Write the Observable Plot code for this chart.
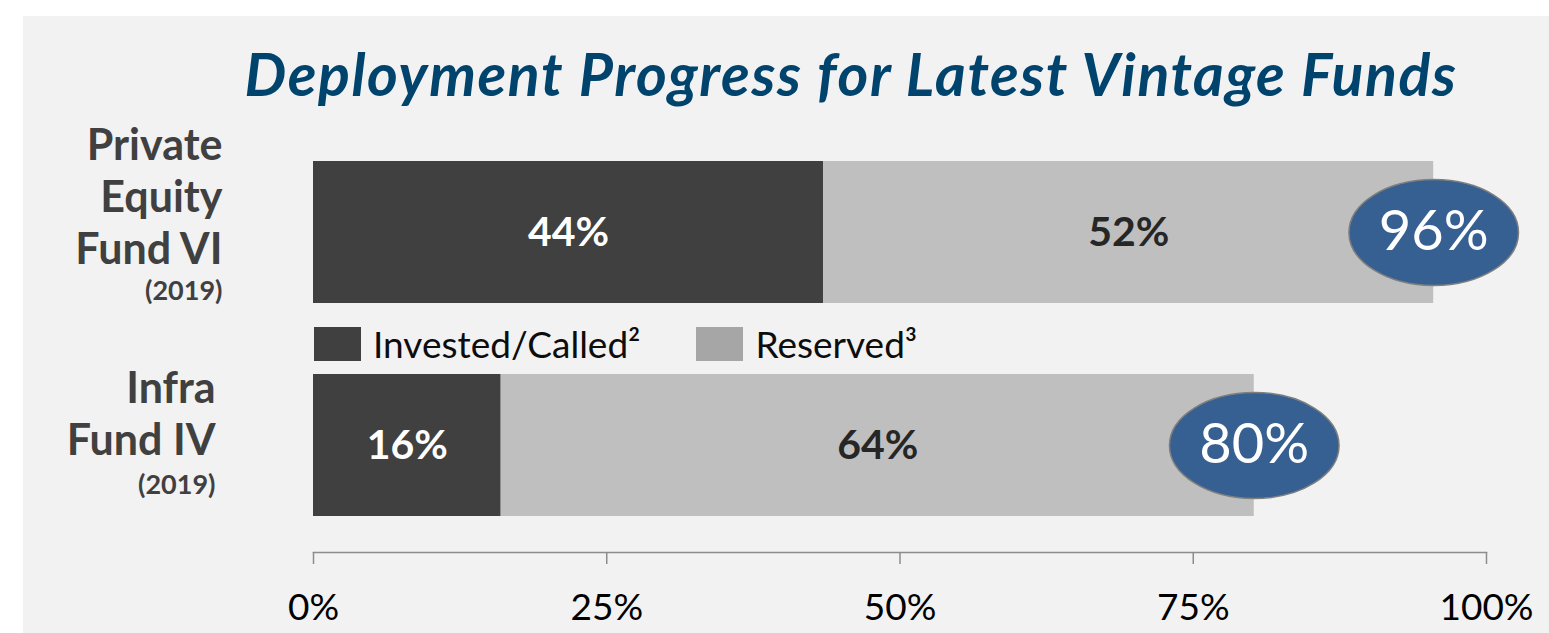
<!DOCTYPE html>
<html>
<head>
<meta charset="utf-8">
<script src="https://cdn.jsdelivr.net/npm/d3@7"></script>
<script src="https://cdn.jsdelivr.net/npm/@observablehq/plot@0.6"></script>
<style>
  html, body { margin: 0; padding: 0; background: #ffffff; width: 1549px; height: 633px; overflow: hidden; font-family: Lato, "Open Sans", sans-serif; }
  #panel { position: absolute; left: 23px; top: 16px; right: 0; bottom: 0; background: #f2f2f2; }
  #title { position: absolute; left: 851px; top: 44px; transform: translateX(-50%); white-space: nowrap;
           font: italic bold 59px/1 Lato, sans-serif; letter-spacing: 1.6px; color: #00446e; margin: 0; }
  #chart { position: absolute; left: 0; top: 0; }
  #legend { position: absolute; left: 314px; top: 321px; }
  #legend > div { font-family: Lato, sans-serif !important; font-size: 37px !important; color: #0d0d0d !important; margin: 0 !important; }
  #legend span > svg { margin-right: 12px !important; }
  #legend span { margin-right: 56px !important; font-size: 37px !important; }
</style>
</head>
<body>
<div id="panel"></div>
<h1 id="title">Deployment Progress for Latest Vintage Funds</h1>
<div id="chart"></div>
<div id="legend"></div>
<script>
// ---- data ----
const funds = ["Private Equity Fund VI", "Infra Fund IV"];
const fundLines = [["Private", "Equity", "Fund VI"], ["Infra", "Fund IV"]];
const vintages = ["2019", "2019"];
const series = ["Invested/Called", "Reserved"];
const footnotes = ["²", "³"];
const invested = [43.5, 16];
const reserved = [52, 64.2];
const xTicks = [0, 25, 50, 75, 100];

// ---- derived tables ----
const rows = funds.flatMap((f, i) => [
  {fund: f, series: series[0], value: invested[i]},
  {fund: f, series: series[1], value: reserved[i]}
]);
const totals = funds.map((f, i) => ({fund: f, total: invested[i] + reserved[i]}));
const pct = v => Math.round(v) + "%";

// ---- styles ----
const barColors = ["#404040", "#bfbfbf"];
const legendColors = ["#404040", "#a6a6a6"];
const labelLayout = [
  {dx: -91, dyName: 31, dyYear: 67},
  {dx: -98, dyName: 9, dyYear: 48}
];

// custom ellipse symbol (rx = 1.6 * r, ry = r)
const ellipse = {
  draw(context, size) {
    const r = Math.sqrt(size / Math.PI);
    const rx = r * 1.6, ry = r, k = 0.5522847;
    context.moveTo(rx, 0);
    context.bezierCurveTo(rx, ry * k, rx * k, ry, 0, ry);
    context.bezierCurveTo(-rx * k, ry, -rx, ry * k, -rx, 0);
    context.bezierCurveTo(-rx, -ry * k, -rx * k, -ry, 0, -ry);
    context.bezierCurveTo(rx * k, -ry, rx, -ry * k, rx, 0);
    context.closePath();
  }
};

const fundLabelMarks = funds.flatMap((f, i) => [
  Plot.text([f], {
    y: d => d, frameAnchor: "left", text: () => fundLines[i].join("\n"),
    textAnchor: "end", lineAnchor: "bottom", lineHeight: 52 / 43,
    dx: labelLayout[i].dx, dy: labelLayout[i].dyName,
    fontSize: 43, fontWeight: "bold", fill: "#404040"
  }),
  Plot.text([f], {
    y: d => d, frameAnchor: "left", text: () => "(" + vintages[i] + ")",
    textAnchor: "end", lineAnchor: "bottom",
    dx: labelLayout[i].dx, dy: labelLayout[i].dyYear,
    fontSize: 27, fontWeight: "bold", fill: "#404040"
  })
]);

const chart = Plot.plot({
  width: 1549,
  height: 633,
  marginLeft: 313,
  marginRight: 63,
  marginTop: 161,
  marginBottom: 81,
  style: {background: "transparent", fontFamily: "Lato, sans-serif", overflow: "visible"},
  x: {domain: [0, 100], axis: null},
  y: {domain: funds, range: [161, 516], paddingInner: 1 / 3, paddingOuter: 0, axis: null},
  color: {domain: series, range: barColors},
  marks: [
    Plot.frame({anchor: "bottom", stroke: "#8c8c8c", strokeWidth: 1.5}),
    Plot.axisX({ticks: xTicks, tickFormat: d => d + "%", tickSize: 12, tickPadding: 29,
                fontSize: 37, stroke: "#8c8c8c", strokeWidth: 1.5, fill: "#000000", label: null}),
    Plot.barX(rows, Plot.stackX({x: "value", y: "fund", fill: "series", inset: 0})),
    Plot.text(rows, Plot.filter(d => d.series === series[0],
      Plot.stackX({x: "value", y: "fund", text: d => pct(d.value), fill: "white", fontSize: 41, fontWeight: "bold"}))),
    Plot.text(rows, Plot.filter(d => d.series === series[1],
      Plot.stackX({x: "value", y: "fund", text: d => pct(d.value), fill: "#262626", fontSize: 41, fontWeight: "bold"}))),
    Plot.dot(totals, {x: "total", y: "fund", r: 53, symbol: ellipse, fill: "#376092", stroke: "#7f7f7f", strokeWidth: 1.5}),
    Plot.text(totals, {x: "total", y: "fund", text: d => pct(d.total), fill: "white", fontSize: 56}),
    ...fundLabelMarks
  ]
});
document.getElementById("chart").appendChild(chart);

const legend = Plot.legend({
  color: {domain: series, range: legendColors},
  legend: "swatches",
  swatchWidth: 47,
  swatchHeight: 34,
  tickFormat: d => d + footnotes[series.indexOf(d)]
});
document.getElementById("legend").appendChild(legend);
</script>
</body>
</html>
